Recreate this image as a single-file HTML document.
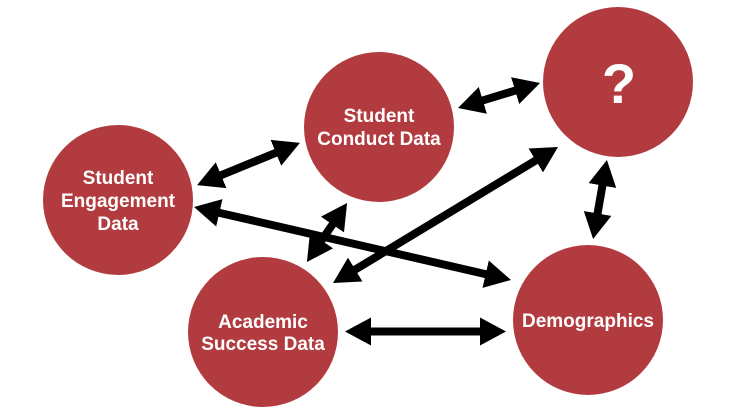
<!DOCTYPE html>
<html>
<head>
<meta charset="utf-8">
<style>
  html, body { margin: 0; padding: 0; background: #ffffff; }
  svg { display: block; }
  text { font-family: "Liberation Sans", Arial, sans-serif; font-weight: bold; fill: #ffffff; }
</style>
</head>
<body>
<svg width="736" height="414" viewBox="0 0 736 414" xmlns="http://www.w3.org/2000/svg">
  <defs>
    <marker id="ah" markerUnits="userSpaceOnUse" markerWidth="26" markerHeight="28" viewBox="0 0 26 28" refX="1" refY="14" orient="auto-start-reverse">
      <path d="M0,0 L26,14 L0,28 z" fill="#000"/>
    </marker>
  </defs>

  <!-- circles -->
  <circle cx="118" cy="200" r="75" fill="#B23B3F"/>
  <circle cx="379" cy="127" r="75" fill="#B23B3F"/>
  <circle cx="618" cy="82" r="75" fill="#B23B3F"/>
  <circle cx="263" cy="332" r="75" fill="#B23B3F"/>
  <circle cx="588" cy="320" r="75" fill="#B23B3F"/>

  <!-- arrows -->
  <g stroke="#000" stroke-width="8" fill="none" marker-start="url(#ah)" marker-end="url(#ah)">
    <line x1="220.2" y1="175.6" x2="276.8" y2="152.4"/>
    <line x1="218.4" y1="212.6" x2="486.6" y2="274.4"/>
    <line x1="333" y1="223.7" x2="321" y2="241.3"/>
    <line x1="536.6" y1="159.9" x2="354.4" y2="270.1"/>
    <line x1="481.9" y1="100.7" x2="516.1" y2="90.3"/>
    <line x1="602.6" y1="184.6" x2="597.4" y2="214.4"/>
    <line x1="370" y1="331.5" x2="481" y2="331.5"/>
  </g>

  <!-- labels -->
  <g font-size="19" text-anchor="middle">
    <text x="118" y="184">Student</text>
    <text x="118" y="207">Engagement</text>
    <text x="118" y="230">Data</text>

    <text x="379" y="122">Student</text>
    <text x="379" y="145">Conduct Data</text>

    <text x="263" y="328">Academic</text>
    <text x="263" y="350">Success Data</text>

    <text x="588" y="327">Demographics</text>
  </g>
  <text x="619" y="103" font-size="56" text-anchor="middle">?</text>
</svg>
</body>
</html>
